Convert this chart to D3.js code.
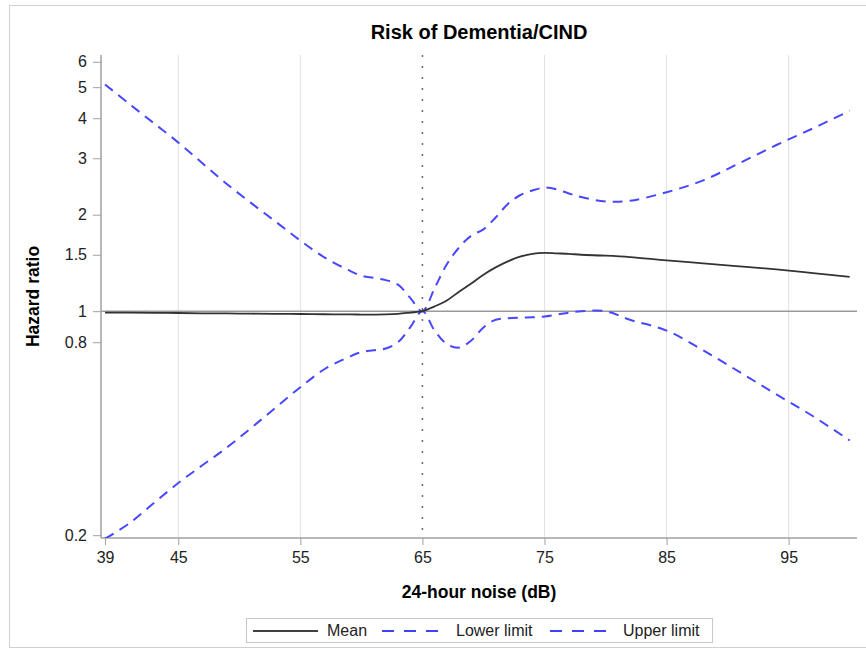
<!DOCTYPE html>
<html lang="en">
<head>
<meta charset="utf-8">
<script src="https://cdn.jsdelivr.net/npm/d3@7"></script>
<style>
  body { margin: 0; background: #fff; }
  svg { display: block; font-family: "Liberation Sans", Arial, sans-serif; }
</style>
</head>
<body>
<svg id="chart"></svg>
<script>
// data
var noise = [39, 41, 43, 45, 47, 49, 51, 53, 55, 57, 59, 60, 61, 62, 63, 64, 65, 66, 67, 68, 69, 70, 71, 72, 73, 74, 75, 76, 77, 78, 80, 82, 85, 88, 91, 94, 97, 100];
var meanHR = [0.99, 0.99, 0.988, 0.987, 0.985, 0.984, 0.982, 0.981, 0.98, 0.978, 0.977, 0.976, 0.976, 0.977, 0.981, 0.99, 1.0, 1.035, 1.08, 1.15, 1.22, 1.30, 1.37, 1.43, 1.48, 1.51, 1.52, 1.515, 1.51, 1.50, 1.49, 1.475, 1.44, 1.41, 1.38, 1.35, 1.315, 1.28];
var lowerHR = [0.195, 0.218, 0.252, 0.291, 0.331, 0.376, 0.433, 0.501, 0.579, 0.66, 0.72, 0.745, 0.755, 0.765, 0.80, 0.89, 1.0, 0.87, 0.79, 0.77, 0.81, 0.89, 0.94, 0.95, 0.955, 0.957, 0.962, 0.975, 0.99, 1.0, 1.0, 0.94, 0.87, 0.755, 0.645, 0.55, 0.47, 0.395];
var upperHR = [5.1, 4.43, 3.86, 3.36, 2.89, 2.49, 2.17, 1.90, 1.66, 1.47, 1.34, 1.29, 1.27, 1.25, 1.21, 1.10, 1.0, 1.18, 1.40, 1.58, 1.72, 1.80, 1.96, 2.16, 2.30, 2.38, 2.43, 2.40, 2.33, 2.27, 2.20, 2.21, 2.35, 2.56, 2.90, 3.30, 3.72, 4.22];
var xTicks = [39, 45, 55, 65, 75, 85, 95];
var yTicks = [0.2, 0.8, 1, 1.5, 2, 3, 4, 5, 6];
var refX = 65;
var refY = 1;

var width = 866, height = 655;
var svg = d3.select("#chart").attr("width", width).attr("height", height);

// outer frame
svg.append("rect")
  .attr("x", 9.5).attr("y", 5.5)
  .attr("width", 870).attr("height", 642)
  .attr("fill", "none").attr("stroke", "#d0d0d0");

var pLeft = 101, pRight = 857, pTop = 55, pBottom = 538;

var x = d3.scaleLinear().domain([38.67, 100.6]).range([pLeft, pRight]);
var y = d3.scaleLog().domain([0.196, 6.3]).range([pBottom, pTop]);

// title
svg.append("text")
  .attr("x", (pLeft + pRight) / 2).attr("y", 39)
  .attr("text-anchor", "middle")
  .attr("font-size", 20).attr("font-weight", "bold").attr("fill", "#000")
  .text("Risk of Dementia/CIND");

// vertical gridlines
svg.append("g")
  .selectAll("line")
  .data(xTicks.filter(function(d) { return d !== refX && d !== 39; }))
  .enter().append("line")
  .attr("x1", function(d) { return x(d); })
  .attr("x2", function(d) { return x(d); })
  .attr("y1", pTop).attr("y2", pBottom)
  .attr("stroke", "#e2e2e2").attr("stroke-width", 1);

// reference lines
svg.append("line")
  .attr("x1", pLeft).attr("x2", pRight)
  .attr("y1", y(refY)).attr("y2", y(refY))
  .attr("stroke", "#9a9a9a").attr("stroke-width", 1.5);

svg.append("line")
  .attr("x1", x(refX)).attr("x2", x(refX))
  .attr("y1", pTop).attr("y2", pBottom)
  .attr("stroke", "#666").attr("stroke-width", 1.5)
  .attr("stroke-dasharray", "2,9");

// x axis
var xAxis = svg.append("g")
  .attr("transform", "translate(0," + pBottom + ")")
  .call(d3.axisBottom(x).tickValues(xTicks).tickSize(7).tickPadding(7).tickFormat(d3.format("d")));
xAxis.select(".domain").attr("stroke", "#a0a0a0").attr("stroke-width", 1.5)
  .attr("d", "M" + pLeft + ",0H" + pRight);
xAxis.selectAll(".tick line").attr("stroke", "#a0a0a0");
xAxis.selectAll("text").attr("font-size", 16).attr("fill", "#222");

// y axis
var yAxis = svg.append("g")
  .attr("transform", "translate(" + pLeft + ",0)")
  .call(d3.axisLeft(y).tickValues(yTicks).tickSize(8).tickPadding(6).tickFormat(function(d) { return String(d); }));
yAxis.select(".domain").attr("stroke", "#a0a0a0").attr("stroke-width", 1.5)
  .attr("d", "M0," + pBottom + "V" + pTop);
yAxis.selectAll(".tick line").attr("stroke", "#a0a0a0");
yAxis.selectAll("text").attr("font-size", 16).attr("fill", "#222");
svg.selectAll("g").attr("font-family", null);

// axis titles
svg.append("text")
  .attr("x", (pLeft + pRight) / 2).attr("y", 598)
  .attr("text-anchor", "middle")
  .attr("font-size", 17.5).attr("font-weight", "bold").attr("fill", "#000")
  .text("24-hour noise (dB)");

svg.append("text")
  .attr("transform", "translate(39," + ((pTop + pBottom) / 2) + ") rotate(-90)")
  .attr("text-anchor", "middle")
  .attr("font-size", 17.5).attr("font-weight", "bold").attr("fill", "#000")
  .text("Hazard ratio");

// curves
svg.append("clipPath").attr("id", "plotclip")
  .append("rect").attr("x", pLeft).attr("y", pTop)
  .attr("width", pRight - pLeft).attr("height", pBottom - pTop);

function makeLine(vals) {
  return d3.line()
    .x(function(d, i) { return x(noise[i]); })
    .y(function(d) { return y(d); })
    .curve(d3.curveCatmullRom.alpha(0.5))(vals);
}

var plot = svg.append("g").attr("clip-path", "url(#plotclip)");

plot.append("path")
  .attr("d", makeLine(lowerHR))
  .attr("fill", "none").attr("stroke", "#4747ff").attr("stroke-width", 2)
  .attr("stroke-dasharray", "10,7");

plot.append("path")
  .attr("d", makeLine(upperHR))
  .attr("fill", "none").attr("stroke", "#4747ff").attr("stroke-width", 2)
  .attr("stroke-dasharray", "10,7");

plot.append("path")
  .attr("d", makeLine(meanHR))
  .attr("fill", "none").attr("stroke", "#333").attr("stroke-width", 1.8);

// legend
var legend = svg.append("g");
legend.append("rect")
  .attr("x", 246.5).attr("y", 618.5).attr("width", 466).attr("height", 24)
  .attr("fill", "#fff").attr("stroke", "#c8c8c8");

var legendItems = [
  { label: "Mean", x0: 253, x1: 318, tx: 327, color: "#000", dash: null },
  { label: "Lower limit", x0: 382, x1: 438, tx: 456, color: "#0000ff", dash: "12,10" },
  { label: "Upper limit", x0: 550, x1: 606, tx: 623, color: "#0000ff", dash: "12,10" }
];
legendItems.forEach(function(it) {
  legend.append("line")
    .attr("x1", it.x0).attr("x2", it.x1)
    .attr("y1", 631).attr("y2", 631)
    .attr("stroke", it.color).attr("stroke-width", 1.5)
    .attr("stroke-dasharray", it.dash);
  legend.append("text")
    .attr("x", it.tx).attr("y", 636)
    .attr("font-size", 16).attr("fill", "#222")
    .text(it.label);
});
</script>
</body>
</html>
